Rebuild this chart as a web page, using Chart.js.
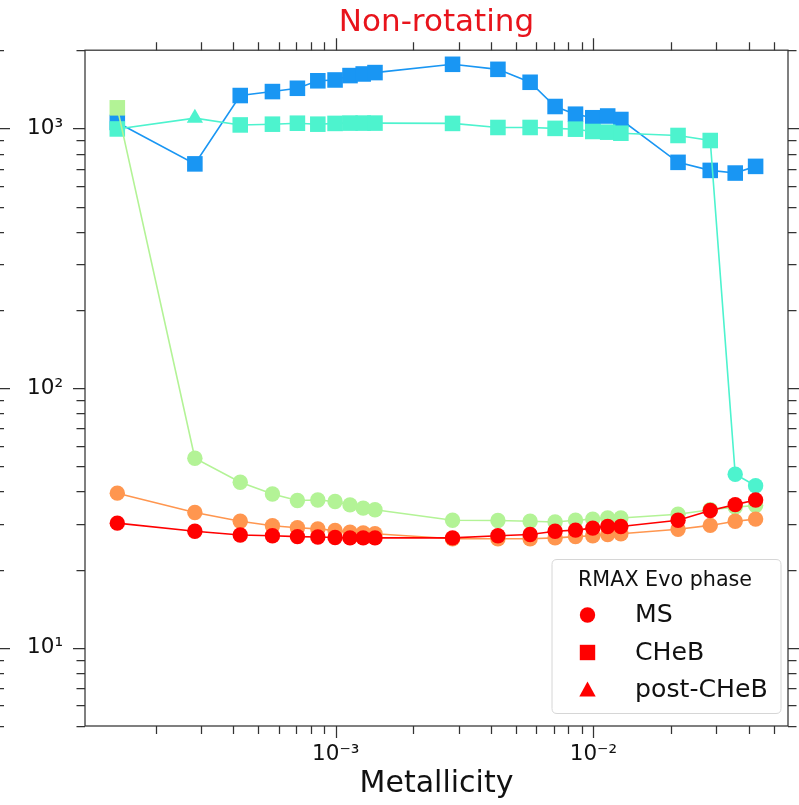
<!DOCTYPE html>
<html>
<head>
<meta charset="utf-8">
<script src="https://cdn.jsdelivr.net/npm/chart.js@4/dist/chart.umd.min.js"></script>
<style>
html,body{margin:0;padding:0;background:#fff;}
#wrap{width:799px;height:805px;position:relative;}
canvas{display:block;}
</style>
</head>
<body>
<div id="wrap"><canvas id="c" width="799" height="805"></canvas></div>
<script>
// ---------- data ----------
const metallicity = [0.000142, 0.000284, 0.000426, 0.000568, 0.00071, 0.000852, 0.000994, 0.001136, 0.001278, 0.00142,
                     0.00284, 0.00426, 0.00568, 0.0071, 0.00852, 0.00994, 0.01136, 0.01278,
                     0.0213, 0.0284, 0.0355, 0.0426];

const rmaxRed    = [30.2, 28.1, 27.2, 27.0, 26.8, 26.7, 26.6, 26.5, 26.5, 26.5,
                    26.5, 27.0, 27.3, 28.1, 28.4, 28.9, 29.3, 29.3, 31.0, 33.8, 35.6, 37.1];
const phaseRed   = ['MS','MS','MS','MS','MS','MS','MS','MS','MS','MS','MS','MS','MS','MS','MS','MS','MS','MS','MS','MS','MS','MS'];

const rmaxOrange  = [39.4, 33.2, 30.7, 29.5, 29.0, 28.7, 28.3, 27.9, 27.7, 27.5,
                     26.3, 26.3, 26.3, 26.5, 26.8, 27.0, 27.3, 27.5, 28.6, 29.6, 30.7, 31.3];
const phaseOrange = ['MS','MS','MS','MS','MS','MS','MS','MS','MS','MS','MS','MS','MS','MS','MS','MS','MS','MS','MS','MS','MS','MS'];

const rmaxGreen  = [1200, 53.7, 43.4, 39.1, 36.9, 37.1, 36.6, 35.5, 34.5, 34.0,
                    31.0, 30.9, 30.7, 30.5, 31.0, 31.3, 31.6, 31.6, 32.7, 34.0, 34.8, 35.3];
const phaseGreen = ['CHeB','MS','MS','MS','MS','MS','MS','MS','MS','MS','MS','MS','MS','MS','MS','MS','MS','MS','MS','MS','MS','MS'];

const rmaxTurq   = [995, 1095, 1031, 1038, 1047, 1038, 1045, 1048, 1048, 1048,
                    1045, 1008, 1008, 1000, 993, 973, 967, 958, 939, 898, 46.6, 42.1];
const phaseTurq  = ['CHeB','post-CHeB','CHeB','CHeB','CHeB','CHeB','CHeB','CHeB','CHeB','CHeB','CHeB','CHeB','CHeB','CHeB','CHeB','CHeB','CHeB','CHeB','CHeB','CHeB','MS','MS'];

const rmaxBlue   = [1054, 730, 1338, 1386, 1427, 1525, 1536, 1597, 1620, 1640,
                    1765, 1688, 1505, 1214, 1134, 1099, 1116, 1082, 740, 689, 673, 714];
const phaseBlue  = ['CHeB','CHeB','CHeB','CHeB','CHeB','CHeB','CHeB','CHeB','CHeB','CHeB','CHeB','CHeB','CHeB','CHeB','CHeB','CHeB','CHeB','CHeB','CHeB','CHeB','CHeB','CHeB'];

const xTickValues = [0.001, 0.01];
const xTickLabels = ['10\u207B\u00B3', '10\u207B\u00B2'];
const yTickValues = [10, 100, 1000];
const yTickLabels = ['10\u00B9', '10\u00B2', '10\u00B3'];

const legendTitle = 'RMAX Evo phase';
const legendPhases = ['MS', 'CHeB', 'post-CHeB'];

// ---------- styles ----------
const FONT = "'DejaVu Sans', 'Liberation Sans', sans-serif";
const phaseStyle = {'MS': ['circle', 7.7], 'CHeB': ['rect', 11], 'post-CHeB': ['triangle', 9.4]};

function makeSet(values, phases, color) {
  return {
    data: metallicity.map((x, i) => ({x: x, y: values[i]})),
    borderColor: color,
    backgroundColor: color,
    borderWidth: 1.6,
    pointStyle: phases.map(p => phaseStyle[p][0]),
    pointRadius: phases.map(p => phaseStyle[p][1]),
    pointBackgroundColor: color,
    pointBorderWidth: 0,
    pointBorderColor: color,
    tension: 0,
    fill: false,
    clip: false
  };
}

const frameTicks = {
  id: 'frameTicks',
  afterDraw(chart) {
    const {ctx, chartArea: a, scales} = chart;
    const xs = scales.x, ys = scales.y;
    ctx.save();
    ctx.strokeStyle = '#333';
    ctx.lineWidth = 1.25;
    ctx.strokeRect(a.left, a.top, a.right - a.left, a.bottom - a.top);
    function logTicks(min, max) {
      const out = [];
      for (let e = Math.floor(Math.log10(min)); e <= Math.ceil(Math.log10(max)); e++) {
        for (let m = 1; m <= 9; m++) {
          const v = m * Math.pow(10, e);
          if (v >= min * 0.999 && v <= max * 1.001) out.push({v: v, major: m === 1});
        }
      }
      return out;
    }
    ctx.beginPath();
    logTicks(ys.min, ys.max).forEach(t => {
      const p = Math.round(ys.getPixelForValue(t.v)) + 0.5;
      const len = t.major ? 12 : 8.5;
      ctx.moveTo(a.left - len, p); ctx.lineTo(a.left, p);
      ctx.moveTo(a.right, p); ctx.lineTo(a.right + len, p);
      ctx.moveTo(0, p); ctx.lineTo(t.major ? 10 : 4, p);
    });
    logTicks(xs.min, xs.max).forEach(t => {
      const p = Math.round(xs.getPixelForValue(t.v)) + 0.5;
      const len = t.major ? 12 : 8;
      ctx.moveTo(p, a.bottom); ctx.lineTo(p, a.bottom + len);
      ctx.moveTo(p, a.top - len); ctx.lineTo(p, a.top);
    });
    ctx.stroke();
    ctx.restore();

    // legend
    ctx.save();
    const lx = 552, ly = 559.5, lw = 229, lh = 154, r = 5;
    ctx.beginPath();
    ctx.moveTo(lx + r, ly);
    ctx.lineTo(lx + lw - r, ly); ctx.quadraticCurveTo(lx + lw, ly, lx + lw, ly + r);
    ctx.lineTo(lx + lw, ly + lh - r); ctx.quadraticCurveTo(lx + lw, ly + lh, lx + lw - r, ly + lh);
    ctx.lineTo(lx + r, ly + lh); ctx.quadraticCurveTo(lx, ly + lh, lx, ly + lh - r);
    ctx.lineTo(lx, ly + r); ctx.quadraticCurveTo(lx, ly, lx + r, ly);
    ctx.closePath();
    ctx.fillStyle = 'rgba(255,255,255,0.85)';
    ctx.fill();
    ctx.strokeStyle = '#d6d6d6';
    ctx.lineWidth = 1;
    ctx.stroke();
    ctx.fillStyle = '#111';
    ctx.textBaseline = 'alphabetic';
    ctx.textAlign = 'left';
    ctx.font = '20.7px ' + FONT;
    ctx.fillText(legendTitle, 578, 586);
    ctx.font = '25.2px ' + FONT;
    const rowY = [615, 652.5, 690];
    legendPhases.forEach((ph, i) => {
      const cy = rowY[i], cx = 587.5;
      ctx.fillStyle = '#ff0000';
      ctx.beginPath();
      if (ph === 'MS') {
        ctx.arc(cx, cy, 7.7, 0, Math.PI * 2);
      } else if (ph === 'CHeB') {
        ctx.rect(cx - 7.7, cy - 7.7, 15.4, 15.4);
      } else {
        ctx.moveTo(cx, cy - 8.5); ctx.lineTo(cx + 8.2, cy + 6.5); ctx.lineTo(cx - 8.2, cy + 6.5); ctx.closePath();
      }
      ctx.fill();
      ctx.fillStyle = '#111';
      ctx.fillText(ph, 635, cy + 7);
    });
    ctx.restore();
  }
};

new Chart(document.getElementById('c'), {
  type: 'line',
  data: {
    datasets: [
      makeSet(rmaxRed, phaseRed, '#ff0000'),
      makeSet(rmaxOrange, phaseOrange, '#ff964f'),
      makeSet(rmaxGreen, phaseGreen, '#b3f396'),
      makeSet(rmaxTurq, phaseTurq, '#4df3ce'),
      makeSet(rmaxBlue, phaseBlue, '#1996f3')
    ]
  },
  options: {
    responsive: false,
    animation: false,
    devicePixelRatio: 1,
    events: [],
    layout: {padding: {left: 0, right: 5, top: 0, bottom: 0}},
    plugins: {
      legend: {display: false},
      tooltip: {enabled: false},
      title: {
        display: true,
        text: 'Non-rotating',
        color: '#e8141c',
        fullSize: false,
        font: {family: FONT, size: 31, weight: 'normal'},
        padding: {top: 4, bottom: 9}
      }
    },
    scales: {
      x: {
        type: 'logarithmic',
        position: 'bottom',
        min: 1.064e-4,
        max: 0.0569,
        afterFit: s => { s.height = 79; },
        afterBuildTicks: s => { s.ticks = xTickValues.map(v => ({value: v})); },
        grid: {display: false, drawTicks: false},
        border: {display: false},
        ticks: {
          autoSkip: false,
          maxRotation: 0,
          padding: 16,
          color: '#111',
          font: {family: FONT, size: 21.5},
          callback: (v, i) => xTickLabels[i]
        },
        title: {
          display: true,
          text: 'Metallicity',
          color: '#111',
          font: {family: FONT, size: 30},
          padding: {top: 0, bottom: 3}
        }
      },
      y: {
        type: 'logarithmic',
        position: 'left',
        min: 5,
        max: 2000,
        afterFit: s => { s.width = 85; },
        afterBuildTicks: s => { s.ticks = yTickValues.map(v => ({value: v})); },
        grid: {display: false, drawTicks: false},
        border: {display: false},
        ticks: {
          autoSkip: false,
          padding: 22,
          color: '#111',
          font: {family: FONT, size: 21.5},
          callback: (v, i) => yTickLabels[i]
        }
      }
    }
  },
  plugins: [frameTicks]
});
</script>
</body>
</html>
